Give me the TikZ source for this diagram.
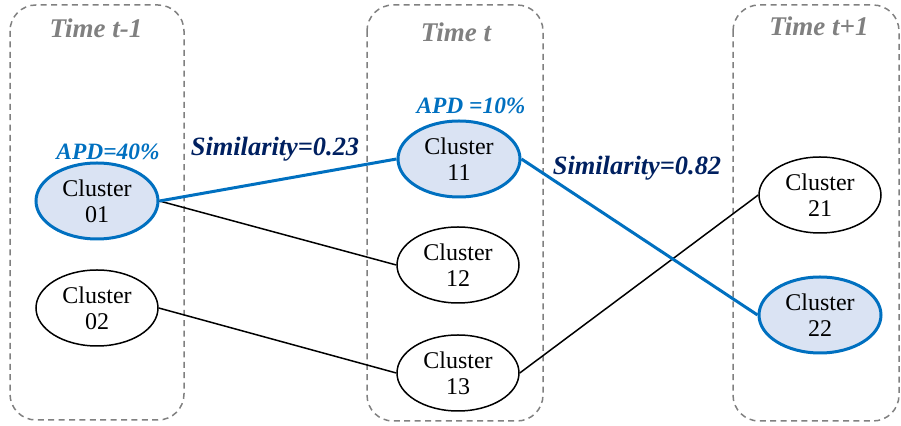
\documentclass[tikz,border=0pt]{standalone}
\usepackage{fontspec}
\setmainfont{Liberation Serif}
\usepackage{tikz}
\usetikzlibrary{shapes.geometric}
\definecolor{linkblue}{RGB}{0,112,192}
\definecolor{paleblue}{RGB}{218,227,243}
\definecolor{navy}{RGB}{0,32,96}
\definecolor{boxgray}{RGB}{128,128,128}
\tikzset{
  cluster/.style={ellipse,draw,line width=0.75pt,minimum width=61pt,minimum height=38pt,inner sep=0pt,align=center,font=\fontsize{12}{13}\selectfont},
  hot/.style={cluster,draw=linkblue,fill=paleblue,line width=1.5pt},
  period/.style={draw=boxgray,dashed,dash pattern=on 3pt off 2.2pt,line width=0.75pt,rounded corners=13pt},
  timelabel/.style={text=boxgray,font=\fontsize{13.5}{14}\selectfont\bfseries\itshape},
  apdlabel/.style={text=linkblue,font=\fontsize{11.7}{12}\selectfont\bfseries\itshape},
  simlabel/.style={text=navy,font=\fontsize{13.2}{14}\selectfont\bfseries\itshape},
  link/.style={line width=0.75pt},
  hotlink/.style={draw=linkblue,line width=1.5pt}
}

\begin{document}
\begin{tikzpicture}[x=0.5pt,y=-0.5pt]
\useasboundingbox (0,0) rectangle (901,426);
\draw[period] (10,5) rectangle (184,420);
\draw[period] (367,5) rectangle (543,421);
\draw[period] (733,5) rectangle (899,421);
\node[timelabel] (t0) at (96,28) {Time t-1};
\node[timelabel] (t1) at (456,32) {Time t};
\node[timelabel] (t2) at (819,26) {Time t+1};
\node[hot] (c01) at (97,201) {Cluster\\01};
\node[cluster] (c02) at (97,308) {Cluster\\02};
\node[hot] (c11) at (459,159) {Cluster\\11};
\node[cluster] (c12) at (458,265) {Cluster\\12};
\node[cluster] (c13) at (458,373) {Cluster\\13};
\node[cluster] (c21) at (820,195) {Cluster\\21};
\node[hot] (c22) at (820,315) {Cluster\\22};
\node[apdlabel] (a01) at (108,152) {APD=40\%};
\node[apdlabel] (a11) at (471,106) {APD =10\%};
\node[simlabel] (s1) at (275,149) {Similarity=0.23};
\node[simlabel] (s2) at (637,168) {Similarity=0.82};
\draw[link] (c01.east) -- (c12.west);
\draw[link] (c02.east) -- (c13.west);
\draw[link] (c13.east) -- (c21.west);
\draw[hotlink] (c01.east) -- (c11.west);
\draw[hotlink] (c11.east) -- (c22.west);
\end{tikzpicture}
\end{document}
